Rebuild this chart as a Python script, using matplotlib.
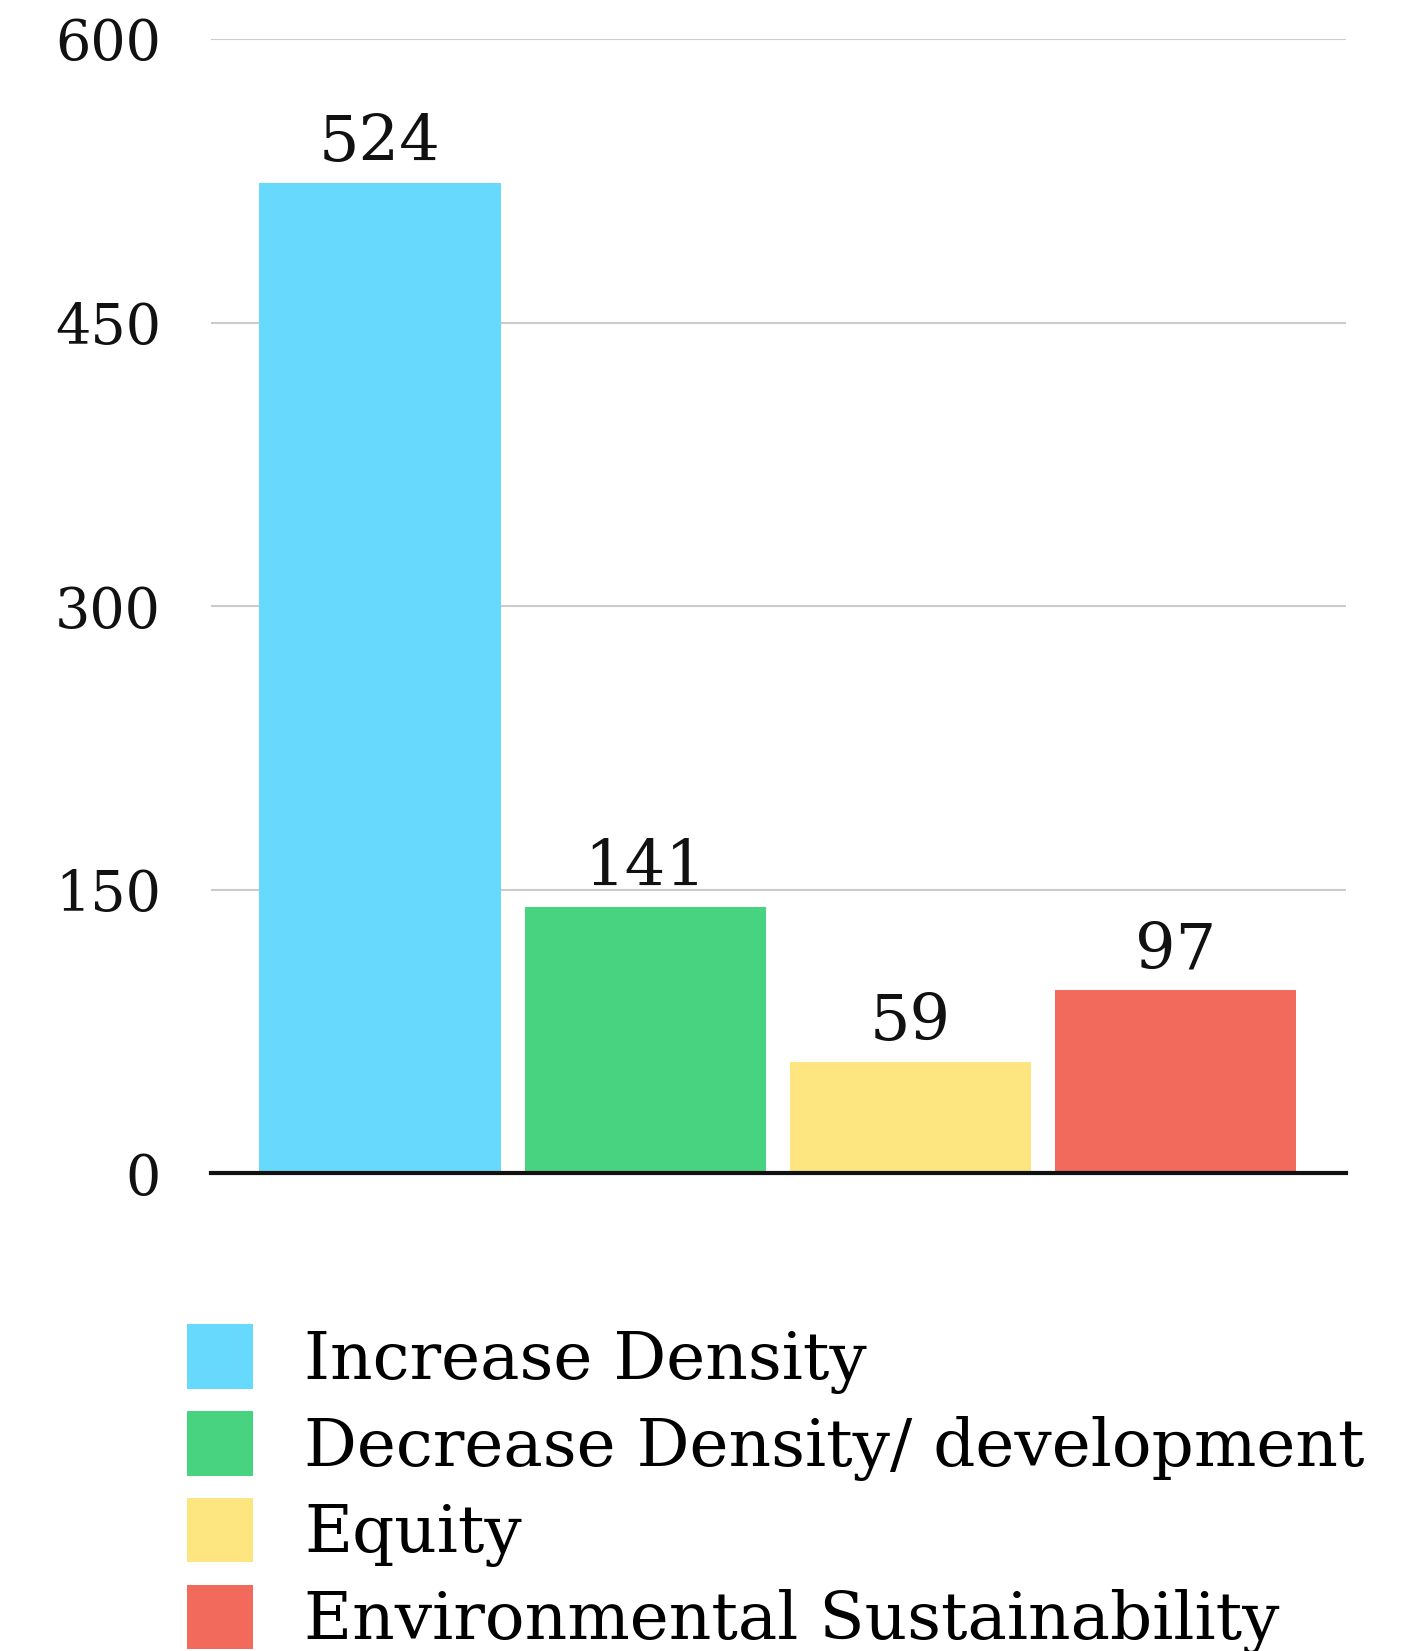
import matplotlib.pyplot as plt
from matplotlib.patches import Patch

categories = ["Increase Density", "Decrease Density/ development", "Equity",
              "Environmental Sustainability"]
counts = [524, 141, 59, 97]
colors = ["#67D9FD", "#47D37F", "#FDE67F", "#F16A5B"]
yticks = [0, 150, 300, 450, 600]

plt.rcParams["font.family"] = ["DejaVu Serif"]

fig = plt.figure(figsize=(14.09, 16.51), dpi=100)
ax = fig.add_axes([0.1498, 0.2893, 0.8055, 0.6871])

xs = list(range(len(categories)))
bars = ax.bar(xs, counts, width=0.91, color=colors, zorder=2)
for x, v in zip(xs, counts):
    ax.annotate(str(v), (x, v), xytext=(0, 6), textcoords="offset points",
                ha="center", va="bottom", fontsize=46, color="#111111")

ax.set_xlim(-0.637, 3.643)
ax.set_ylim(0, 600)
ax.set_yticks(yticks)
ax.set_yticklabels([str(t) for t in yticks], fontsize=40)
ax.tick_params(axis="y", length=0, pad=36, colors="#111111")
ax.set_xticks([])
ax.yaxis.grid(True, color="#cccccc", linewidth=1.5, zorder=0)
for s in ["top", "right", "left"]:
    ax.spines[s].set_visible(False)
ax.spines["bottom"].set_linewidth(3)
ax.spines["bottom"].set_color("#111111")
ax.spines["bottom"].set_zorder(3)

handles = [Patch(facecolor=c, edgecolor="none") for c in colors]
fig.legend(handles, categories, loc="upper left", bbox_to_anchor=(0.133, 0.198),
           frameon=False, fontsize=47.5, handlelength=0.99, handleheight=1.13,
           handletextpad=0.78, labelspacing=0.26, borderpad=0, borderaxespad=0)

fig.savefig("out.png", dpi=100)
